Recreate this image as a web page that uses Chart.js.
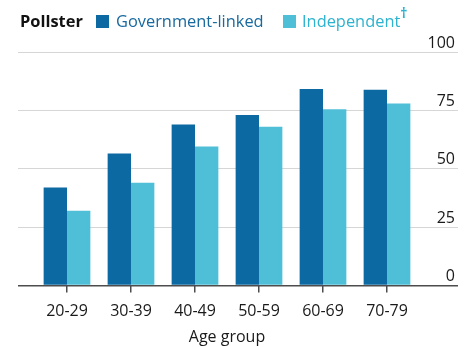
<!DOCTYPE html>
<html>
<head>
<meta charset="utf-8">
<script src="https://cdn.jsdelivr.net/npm/chart.js@4/dist/chart.umd.min.js"></script>
<style>
    body { margin: 0; background: #fff; font-family: "Open Sans", sans-serif; }
    #caja { position: relative; width: 475px; height: 347px; }
    #leyenda { position: absolute; left: 0; top: 0; width: 475px; height: 40px; font-size: 16.4px; line-height: 20px; }
    #leyenda span { position: absolute; top: 11px; white-space: nowrap; }
    #leyenda .cuadro { width: 13px; height: 13px; top: 15px; }
    sup { font-size: 14px; line-height: 0; position: relative; top: -3px; font-weight: 700; }
</style>
</head>
<body>
<div id="caja">
    <canvas id="grafico" width="475" height="347"></canvas>
    <div id="leyenda">
        <span style="left:20px; font-weight:700; color:#111;">Pollster</span>
        <span class="cuadro" style="left:96px; background:#0d69a1;"></span>
        <span style="left:116px; color:#17699f;">Government-linked</span>
        <span class="cuadro" style="left:283px; background:#4fbfd7;"></span>
        <span style="left:302px; color:#2db3cf;">Independent<sup>†</sup></span>
    </div>
</div>
<script>
const categorias = ["20-29", "30-39", "40-49", "50-59", "60-69", "70-79"];
const gobierno = [42, 56.5, 69, 73, 84.2, 83.8];
const independiente = [32, 44, 59.5, 68, 75.5, 78];
const tituloX = "Age group";

Chart.defaults.font.family = "'Open Sans', sans-serif";
Chart.defaults.font.size = 16;
Chart.defaults.color = "#1a1a1a";

const colorGrilla = ctx => (ctx.tick && ctx.tick.value === 0) ? "#4d4d4d" : "#d6d6d6";
const anchoGrilla = ctx => (ctx.tick && ctx.tick.value === 0) ? 1.5 : 1;

new Chart(document.getElementById("grafico"), {
    type: "bar",
    data: {
        labels: categorias,
        datasets: [
            {
                label: "Government-linked",
                data: gobierno,
                backgroundColor: "#0d69a1",
                yAxisID: "y"
            },
            {
                label: "Independent",
                data: independiente,
                backgroundColor: "#4fbfd7",
                yAxisID: "y"
            }
        ]
    },
    options: {
        responsive: false,
        animation: false,
        layout: {
            padding: { top: 52, left: 18, right: 53, bottom: 0 }
        },
        datasets: {
            bar: { categoryPercentage: 0.73, barPercentage: 1.0 }
        },
        plugins: {
            legend: { display: false },
            tooltip: { enabled: false }
        },
        scales: {
            x: {
                grid: {
                    drawOnChartArea: false,
                    offset: false,
                    tickLength: 7,
                    color: "#4d4d4d",
                    lineWidth: 1.5
                },
                border: { display: false },
                ticks: { padding: 9, color: "#1a1a1a" },
                title: {
                    display: true,
                    text: tituloX,
                    color: "#1a1a1a",
                    padding: { top: -2, bottom: 0 }
                }
            },
            y: {
                position: "right",
                min: 0,
                max: 100,
                afterFit: escala => { escala.width = 3; },
                grid: {
                    tickLength: 39,
                    color: colorGrilla,
                    lineWidth: anchoGrilla
                },
                border: { display: false },
                ticks: {
                    stepSize: 25,
                    mirror: true,
                    padding: 36,
                    labelOffset: -9,
                    color: "#1a1a1a"
                }
            },
            yl: {
                position: "left",
                min: 0,
                max: 100,
                grid: {
                    drawOnChartArea: false,
                    tickLength: 17,
                    color: colorGrilla,
                    lineWidth: anchoGrilla
                },
                border: { display: false },
                ticks: { stepSize: 25, display: false }
            }
        }
    }
});
</script>
</body>
</html>
